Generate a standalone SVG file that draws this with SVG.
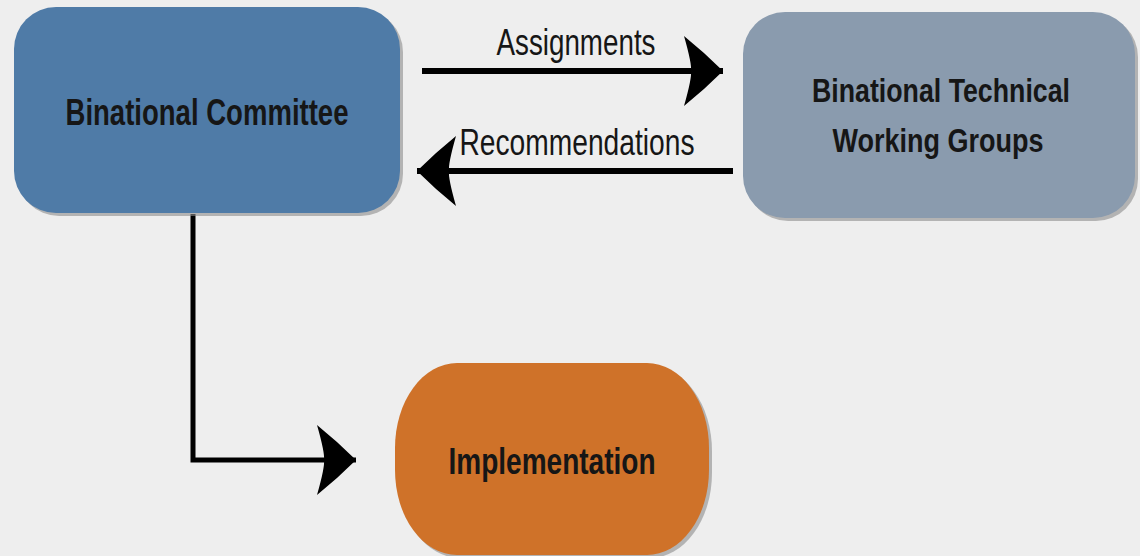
<svg xmlns="http://www.w3.org/2000/svg" width="1140" height="556" viewBox="0 0 1140 556">
<style>
.lbl{font-family:"Liberation Sans","Noto Sans",sans-serif;font-size:36px;font-weight:bold;fill:#161616;text-anchor:middle}
.con{fill:none;stroke:#000;stroke-width:6}
.sh{fill:#8c8c8c;opacity:0.6}
</style>
<defs>
<marker id="ah" markerUnits="userSpaceOnUse" markerWidth="42" markerHeight="70" viewBox="0 0 42 70" refX="40" refY="35" orient="auto">
<path d="M1,0 Q22,17 40,35 Q22,53 1,70 Q9,42 8,35 Q9,28 1,0 Z" fill="#000"/>
</marker>
</defs>
<rect width="1140" height="556" fill="#eeeeee"/>
<g id="connectors">
<path class="con" d="M422,71 H723" marker-end="url(#ah)"/>
<path class="con" d="M733,171 H417" marker-end="url(#ah)"/>
<path class="con" style="stroke-width:5" d="M193,214 V460 H356" marker-end="url(#ah)"/>
</g>
<g id="node-committee">
<rect class="sh" x="17" y="10" width="386" height="206" rx="42"/>
<rect x="14" y="7" width="386" height="206" rx="42" fill="#4f7ba7"/>
<text class="lbl" x="207" y="125" textLength="283" lengthAdjust="spacingAndGlyphs">Binational Committee</text>
</g>
<g id="node-twg">
<rect class="sh" x="746" y="15" width="392" height="206" rx="42"/>
<rect x="743" y="12" width="392" height="206" rx="42" fill="#8a9bae"/>
<text class="lbl" style="font-size:34px" x="941" y="102" textLength="258" lengthAdjust="spacingAndGlyphs">Binational Technical</text>
<text class="lbl" style="font-size:34px" x="938" y="152" textLength="211" lengthAdjust="spacingAndGlyphs">Working Groups</text>
</g>
<g id="node-implementation">
<rect class="sh" x="398" y="366" width="314" height="192" rx="62" ry="85"/>
<rect x="395" y="363" width="314" height="192" rx="62" ry="85" fill="#cf7229"/>
<text class="lbl" x="552" y="474" textLength="207" lengthAdjust="spacingAndGlyphs">Implementation</text>
</g>
<g id="labels">
<text class="lbl" style="font-weight:normal" x="576" y="55" textLength="159" lengthAdjust="spacingAndGlyphs">Assignments</text>
<text class="lbl" style="font-weight:normal" x="577" y="155" textLength="235" lengthAdjust="spacingAndGlyphs">Recommendations</text>
</g>
</svg>
